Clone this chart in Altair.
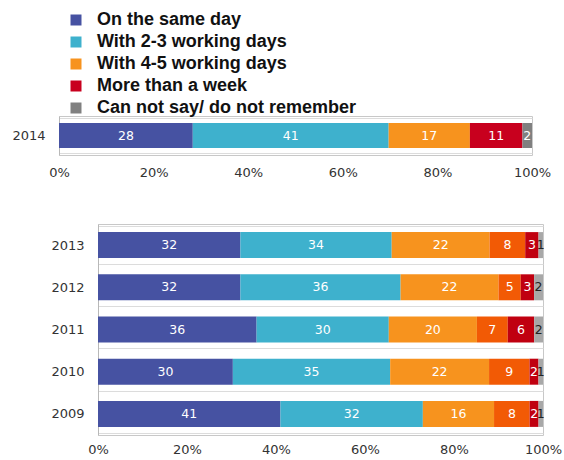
import altair as alt
import pandas as pd

# ---------------- data ----------------
top_years = ["2014"]
top_cats = ["On the same day", "With 2-3 working days", "With 4-5 working days",
            "More than a week", "Can not say/ do not remember"]
top_vals = [28, 41, 17, 11, 2]
top_colors = ["#4652A2", "#3EB1CD", "#F7931E", "#C8001E", "#808080"]

bottom_years = ["2013", "2012", "2011", "2010", "2009"]
bottom_cats = ["On the same day", "With 2-3 working days", "With 4-5 working days",
               "Within 1-2 weeks", "More than 2 weeks", "Can not say/ do not remember"]
v_same = [32, 32, 36, 30, 41]
v_23 = [34, 36, 30, 35, 32]
v_45 = [22, 22, 20, 22, 16]
v_12w = [8, 5, 7, 9, 8]
v_more = [3, 3, 6, 2, 2]
v_dk = [1, 2, 2, 1, 1]
bottom_colors = ["#4652A2", "#3EB1CD", "#F7931E", "#F25A05", "#C00010", "#A8A8A8"]

x_ticks = [0, 0.2, 0.4, 0.6, 0.8, 1.0]

# ---------------- tables ----------------
top_rows = []
for i, (c, v) in enumerate(zip(top_cats, top_vals)):
    top_rows.append({"year": top_years[0], "cat": c, "idx": i, "value": v})
df_top = pd.DataFrame(top_rows)

bottom_series = [v_same, v_23, v_45, v_12w, v_more, v_dk]
bottom_rows = []
for j, y in enumerate(bottom_years):
    for i, c in enumerate(bottom_cats):
        bottom_rows.append({"year": y, "cat": c, "idx": i, "value": bottom_series[i][j]})
df_bottom = pd.DataFrame(bottom_rows)

AX_FONT = "DejaVu Sans"


def stacked(chart):
    return (chart
            .transform_joinaggregate(total="sum(value)", groupby=["year"])
            .transform_window(cum="sum(value)", sort=[alt.SortField("idx")],
                              groupby=["year"], frame=[None, 0])
            .transform_calculate(start="(datum.cum - datum.value) / datum.total",
                                 end="datum.cum / datum.total",
                                 mid="(datum.cum - datum.value / 2) / datum.total"))


def x_axis(pad):
    return alt.Axis(format="%", values=x_ticks, title=None, grid=False, ticks=False,
                    tickSize=0, domain=False, labelPadding=pad, labelFont=AX_FONT,
                    labelFontSize=13, labelColor="#333333", labelFlush=False)


def y_axis():
    return alt.Axis(title=None, ticks=False, tickSize=0, domain=True, domainColor="#B8B8B8",
                    grid=True, gridColor="#DCDCDC", tickBand="extent",
                    labelPadding=14, labelFont=AX_FONT, labelFontSize=13,
                    labelColor="#333333")


def spacer(w, h):
    return alt.Chart(pd.DataFrame({"a": [0]})).mark_point(opacity=0, size=0).encode(
        x=alt.X("a:Q", axis=None), y=alt.Y("a:Q", axis=None)
    ).properties(width=w, height=h, view=alt.ViewBackground(stroke=None))


# ---------------- top panel ----------------
top_base = stacked(alt.Chart(df_top))
top_bars = top_base.mark_bar(size=25).encode(
    x=alt.X("start:Q", scale=alt.Scale(domain=[0, 1], nice=False), axis=x_axis(11)),
    x2="end:Q",
    y=alt.Y("year:N", sort=top_years, axis=y_axis()),
    color=alt.Color("cat:N", scale=alt.Scale(domain=top_cats, range=top_colors),
                    legend=alt.Legend(title=None, orient="none", legendX=57, legendY=-105,
                                      symbolType="square", symbolSize=121,
                                      symbolStrokeWidth=0, labelFont="Liberation Sans",
                                      labelFontSize=18, labelFontWeight="bold",
                                      labelColor="#111111", labelOffset=12,
                                      rowPadding=4, labelLimit=0, padding=0)),
)
top_text = top_base.mark_text(font=AX_FONT, fontSize=12.5, color="white").encode(
    x=alt.X("mid:Q", scale=alt.Scale(domain=[0, 1], nice=False)),
    y=alt.Y("year:N", sort=top_years),
    text="value:Q",
)
top = alt.layer(top_bars, top_text).properties(
    width=473, height=39, view=alt.ViewBackground(stroke="#C8C8C8"))

# ---------------- bottom panel ----------------
bottom_base = stacked(alt.Chart(df_bottom))
bottom_bars = bottom_base.mark_bar(size=26).encode(
    x=alt.X("start:Q", scale=alt.Scale(domain=[0, 1], nice=False), axis=x_axis(8)),
    x2="end:Q",
    y=alt.Y("year:N", sort=bottom_years, axis=y_axis()),
    color=alt.Color("cat:N", scale=alt.Scale(domain=bottom_cats, range=bottom_colors),
                    legend=None),
)
bottom_text = bottom_base.mark_text(font=AX_FONT, fontSize=12.5).encode(
    x=alt.X("mid:Q", scale=alt.Scale(domain=[0, 1], nice=False)),
    y=alt.Y("year:N", sort=bottom_years),
    text="value:Q",
    color=alt.condition("datum.idx == 5", alt.value("#222222"), alt.value("white")),
)
bottom = alt.layer(bottom_bars, bottom_text).properties(
    width=445, height=211, view=alt.ViewBackground(stroke="#C8C8C8"))

chart = alt.vconcat(
    alt.hconcat(spacer(1, 39), top, spacing=0),
    alt.hconcat(spacer(40, 211), bottom, spacing=0),
    spacing=37,
).resolve_scale(color="independent", x="independent").properties(
    padding={"left": 10, "top": 11, "right": 0, "bottom": 0}
).configure_view(stroke="#C8C8C8")

chart.save("out.html", embed_options={"renderer": "svg", "actions": False})
